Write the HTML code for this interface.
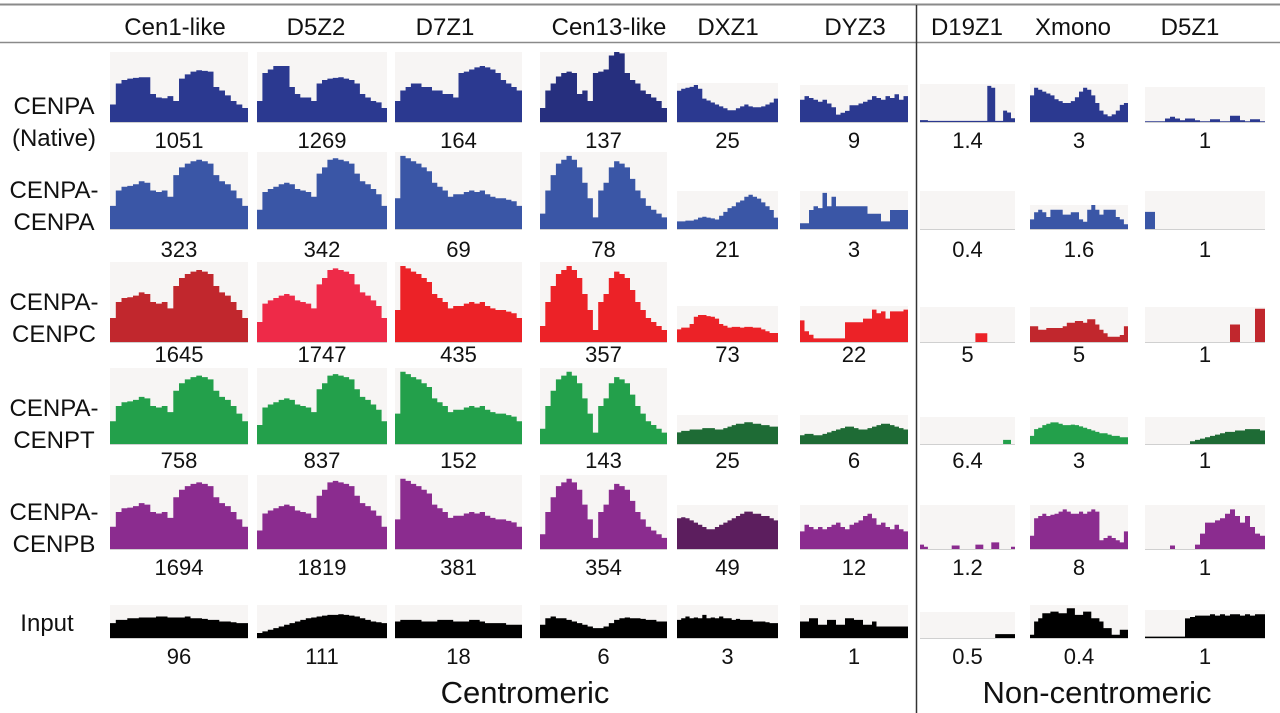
<!DOCTYPE html>
<html><head><meta charset="utf-8"><style>
html,body{margin:0;padding:0;background:#fff;}
svg{display:block;font-family:"Liberation Sans",Arial,sans-serif;}
</style></head><body>
<svg id="fig" width="1280" height="713" viewBox="0 0 1280 713">
<line x1="0" y1="4.5" x2="1280" y2="4.5" stroke="#8a8a8a" stroke-width="2"/>
<line x1="0" y1="42.5" x2="1280" y2="42.5" stroke="#8a8a8a" stroke-width="1.5"/>
<line x1="916.5" y1="5" x2="916.5" y2="713" stroke="#333" stroke-width="1.5"/>
<g id="cells"></g>
<g font-size="24" fill="#111" text-anchor="middle">
<text x="175" y="35">Cen1-like</text>
<text x="316" y="35">D5Z2</text>
<text x="445" y="35">D7Z1</text>
<text x="609" y="35">Cen13-like</text>
<text x="728" y="35">DXZ1</text>
<text x="855" y="35">DYZ3</text>
<text x="967" y="35">D19Z1</text>
<text x="1073" y="35">Xmono</text>
<text x="1190" y="35">D5Z1</text>
</g>
<g font-size="24" fill="#111" text-anchor="middle">
<text x="54" y="114">CENPA</text>
<text x="54" y="146">(Native)</text>
<text x="54" y="198">CENPA-</text>
<text x="54" y="230">CENPA</text>
<text x="54" y="310">CENPA-</text>
<text x="54" y="342">CENPC</text>
<text x="54" y="416">CENPA-</text>
<text x="54" y="448">CENPT</text>
<text x="54" y="520">CENPA-</text>
<text x="54" y="552">CENPB</text>
<text x="47" y="631">Input</text>
</g>
<text x="525" y="703" font-size="31" text-anchor="middle" fill="#111">Centromeric</text>
<text x="1097" y="703" font-size="31" text-anchor="middle" fill="#111">Non-centromeric</text>
</svg>
<script>
// ---- data ----
const columns = ["Cen1-like","D5Z2","D7Z1","Cen13-like","DXZ1","DYZ3","D19Z1","Xmono","D5Z1"];
const rows = ["CENPA-native","CENPA-CENPA","CENPA-CENPC","CENPA-CENPT","CENPA-CENPB","Input"];
const labelsR1 = ["1051","1269","164","137","25","9","1.4","3","1"];
const labelsR2 = ["323","342","69","78","21","3","0.4","1.6","1"];
const labelsR3 = ["1645","1747","435","357","73","22","5","5","1"];
const labelsR4 = ["758","837","152","143","25","6","6.4","3","1"];
const labelsR5 = ["1694","1819","381","354","49","12","1.2","8","1"];
const labelsR6 = ["96","111","18","6","3","1","0.5","0.4","1"];

const c1r1 = [0.25,0.55,0.6,0.62,0.63,0.64,0.64,0.4,0.35,0.34,0.37,0.3,0.62,0.68,0.72,0.74,0.73,0.72,0.5,0.45,0.38,0.3,0.25,0.2];
const c1rx = [0.3,0.5,0.55,0.56,0.58,0.62,0.6,0.5,0.48,0.5,0.42,0.7,0.8,0.85,0.88,0.9,0.88,0.85,0.7,0.62,0.58,0.5,0.4,0.3];
const c2r1 = [0.3,0.7,0.75,0.8,0.8,0.8,0.5,0.4,0.35,0.35,0.3,0.55,0.6,0.62,0.63,0.64,0.62,0.6,0.55,0.4,0.35,0.3,0.28,0.2];
const c2rx = [0.25,0.48,0.52,0.55,0.58,0.6,0.58,0.52,0.5,0.48,0.42,0.72,0.8,0.9,0.92,0.9,0.88,0.85,0.72,0.62,0.58,0.52,0.45,0.3];
const c3r1 = [0.3,0.45,0.5,0.55,0.55,0.5,0.5,0.45,0.45,0.4,0.4,0.35,0.7,0.72,0.75,0.78,0.8,0.78,0.75,0.7,0.6,0.55,0.5,0.45];
const c3rx = [0.4,0.95,0.92,0.88,0.85,0.8,0.75,0.6,0.55,0.5,0.42,0.45,0.45,0.48,0.5,0.48,0.5,0.45,0.42,0.4,0.4,0.38,0.36,0.3];
const c4r1 = [0.2,0.45,0.55,0.65,0.7,0.72,0.7,0.4,0.45,0.3,0.7,0.72,0.75,0.95,1,0.98,0.7,0.6,0.55,0.45,0.4,0.35,0.3,0.2];
const c4rx = [0.2,0.5,0.7,0.85,0.9,0.95,0.9,0.8,0.6,0.4,0.15,0.5,0.6,0.8,0.88,0.85,0.8,0.65,0.5,0.4,0.3,0.25,0.2,0.15];
const dxz1r1 = [0.8,0.85,0.88,0.9,0.95,0.85,0.6,0.55,0.5,0.45,0.4,0.35,0.3,0.3,0.35,0.4,0.45,0.4,0.38,0.38,0.4,0.45,0.5,0.6];
const dyz3r1 = [0.6,0.7,0.65,0.6,0.55,0.6,0.5,0.4,0.2,0.25,0.3,0.45,0.45,0.5,0.55,0.6,0.7,0.65,0.6,0.7,0.65,0.75,0.6,0.7];
const d19r1 = [0.05,0.05,0.03,0.03,0.03,0.03,0.03,0.03,0.03,0.03,0.03,0.03,0.03,0.03,0.03,0.03,0.03,0.95,0.9,0.03,0.03,0.3,0.25,0.1];
const xmr1 = [0.7,0.9,0.85,0.8,0.75,0.7,0.6,0.55,0.5,0.5,0.55,0.65,0.8,0.9,0.85,0.7,0.5,0.3,0.2,0.15,0.2,0.3,0.45,0.5];
const d5z1r1 = [0.02,0.02,0.02,0.02,0.1,0.15,0.1,0.05,0.1,0.1,0.05,0.02,0.02,0.08,0.08,0.02,0.02,0.18,0.18,0.05,0.02,0.08,0.08,0.02];
const dxz1r2 = [0.2,0.2,0.22,0.22,0.25,0.3,0.32,0.3,0.28,0.25,0.35,0.45,0.55,0.6,0.7,0.75,0.85,0.9,0.85,0.8,0.7,0.6,0.5,0.3];
const dyz3r2 = [0.15,0.15,0.5,0.6,0.55,0.95,0.6,0.85,0.6,0.6,0.6,0.6,0.6,0.6,0.6,0.4,0.4,0.4,0.2,0.2,0.5,0.5,0.5,0.5];
const d19r2 = [0,0,0,0,0,0,0,0,0,0,0,0,0,0,0,0,0,0,0,0,0,0,0,0];
const xmr2 = [0.4,0.7,0.8,0.7,0.5,0.8,0.8,0.8,0.6,0.6,0.7,0.7,0.4,0.3,0.8,1,0.8,0.6,0.8,0.8,0.8,0.5,0.4,0.2];
const d5z1r2 = [0.45,0.45,0,0,0,0,0,0,0,0,0,0,0,0,0,0,0,0,0,0,0,0,0,0];
const dxz1r3 = [0.35,0.4,0.4,0.5,0.7,0.75,0.75,0.72,0.7,0.65,0.5,0.45,0.4,0.42,0.42,0.4,0.42,0.42,0.4,0.4,0.35,0.3,0.25,0.25];
const dyz3r3 = [0.6,0.3,0.2,0.1,0.1,0.1,0.1,0.1,0.1,0.1,0.55,0.55,0.55,0.55,0.65,0.65,0.9,0.8,0.85,0.65,0.85,0.85,0.85,0.9];
const d19r3 = [0,0,0,0,0,0,0,0,0,0,0,0,0,0,0.25,0.25,0.25,0,0,0,0,0,0,0];
const xmr3 = [0.45,0.45,0.35,0.35,0.4,0.4,0.4,0.4,0.45,0.55,0.55,0.6,0.6,0.55,0.65,0.65,0.5,0.35,0.25,0.15,0.15,0.15,0.2,0.45];
const d5z1r3 = [0,0,0,0,0,0,0,0,0,0,0,0,0,0,0,0,0,0.5,0.5,0,0,0,0.95,0.95];
const dxz1r4 = [0.4,0.45,0.45,0.5,0.5,0.5,0.55,0.55,0.55,0.5,0.5,0.55,0.6,0.65,0.7,0.7,0.75,0.75,0.7,0.7,0.65,0.65,0.6,0.6];
const dyz3r4 = [0.3,0.35,0.35,0.3,0.3,0.35,0.4,0.45,0.5,0.55,0.6,0.6,0.55,0.5,0.5,0.55,0.6,0.65,0.7,0.7,0.65,0.6,0.55,0.5];
const d19r4 = [0,0,0,0,0,0,0,0,0,0,0,0,0,0,0,0,0,0,0,0,0,0.15,0.15,0];
const xmr4 = [0.3,0.55,0.6,0.7,0.75,0.8,0.8,0.75,0.7,0.7,0.72,0.7,0.65,0.6,0.55,0.5,0.45,0.4,0.4,0.35,0.3,0.3,0.25,0.25];
const d5z1r4 = [0,0,0,0,0,0,0,0,0,0.1,0.15,0.2,0.25,0.3,0.35,0.4,0.45,0.45,0.5,0.5,0.55,0.55,0.55,0.5];
const dxz1r5 = [0.7,0.72,0.7,0.65,0.6,0.55,0.5,0.45,0.45,0.5,0.55,0.6,0.65,0.7,0.75,0.8,0.85,0.85,0.8,0.8,0.75,0.75,0.7,0.65];
const dyz3r5 = [0.4,0.55,0.5,0.45,0.5,0.45,0.5,0.55,0.6,0.5,0.45,0.55,0.6,0.65,0.75,0.8,0.7,0.55,0.6,0.5,0.45,0.55,0.45,0.4];
const d19r5 = [0.1,0.05,0,0,0,0,0,0,0.08,0.08,0,0,0,0,0.1,0.1,0,0,0.15,0.15,0,0,0,0.05];
const xmr5 = [0.3,0.7,0.75,0.8,0.75,0.78,0.8,0.85,0.9,0.85,0.8,0.8,0.85,0.8,0.85,0.9,0.85,0.2,0.25,0.3,0.25,0.2,0.15,0.4];
const d5z1r5 = [0,0,0,0,0,0.08,0,0,0,0,0.1,0.35,0.6,0.6,0.65,0.7,0.8,0.9,0.75,0.6,0.75,0.5,0.35,0.3];
const inC1 = [0.45,0.55,0.55,0.6,0.6,0.62,0.62,0.62,0.65,0.65,0.62,0.62,0.62,0.65,0.6,0.6,0.58,0.55,0.55,0.5,0.5,0.48,0.45,0.45];
const inC2 = [0.15,0.2,0.25,0.3,0.35,0.4,0.45,0.5,0.55,0.6,0.62,0.65,0.68,0.7,0.7,0.72,0.7,0.68,0.65,0.6,0.55,0.5,0.48,0.45];
const inC3 = [0.5,0.55,0.55,0.55,0.55,0.5,0.5,0.5,0.55,0.55,0.55,0.5,0.5,0.5,0.55,0.55,0.5,0.45,0.45,0.45,0.45,0.4,0.4,0.4];
const inC4 = [0.4,0.6,0.65,0.6,0.6,0.55,0.5,0.45,0.4,0.35,0.3,0.3,0.35,0.45,0.55,0.6,0.62,0.6,0.6,0.58,0.55,0.55,0.5,0.5];
const inC5 = [0.55,0.6,0.65,0.6,0.62,0.6,0.7,0.6,0.62,0.6,0.65,0.6,0.6,0.55,0.58,0.55,0.55,0.55,0.5,0.5,0.5,0.48,0.45,0.45];
const inC6 = [0.5,0.5,0.6,0.6,0.4,0.4,0.55,0.55,0.4,0.4,0.6,0.6,0.55,0.55,0.4,0.4,0.5,0.35,0.35,0.35,0.35,0.35,0.35,0.35];
const inC7 = [0,0,0,0,0,0,0,0,0,0,0,0,0,0,0,0,0,0,0,0.15,0.15,0.15,0.15,0.15];
const inC8 = [0.1,0.5,0.6,0.75,0.75,0.8,0.8,0.75,0.75,0.9,0.9,0.7,0.7,0.8,0.8,0.6,0.6,0.5,0.3,0.3,0.1,0.1,0.25,0.25];
const inC9 = [0.05,0.05,0.05,0.05,0.05,0.05,0.05,0.05,0.7,0.75,0.8,0.8,0.8,0.85,0.8,0.85,0.8,0.85,0.85,0.8,0.85,0.8,0.85,0.85];

const seriesR1 = [c1r1,c2r1,c3r1,c4r1,dxz1r1,dyz3r1,d19r1,xmr1,d5z1r1];
const seriesR2 = [c1rx,c2rx,c3rx,c4rx,dxz1r2,dyz3r2,d19r2,xmr2,d5z1r2];
const seriesR3 = [c1rx,c2rx,c3rx,c4rx,dxz1r3,dyz3r3,d19r3,xmr3,d5z1r3];
const seriesR4 = [c1rx,c2rx,c3rx,c4rx,dxz1r4,dyz3r4,d19r4,xmr4,d5z1r4];
const seriesR5 = [c1rx,c2rx,c3rx,c4rx,dxz1r5,dyz3r5,d19r5,xmr5,d5z1r5];
const seriesR6 = [inC1,inC2,inC3,inC4,inC5,inC6,inC7,inC8,inC9];

// ---- layout (not data) ----
const colX0 = [110,257,395,540,677,800,920,1030,1145];
const colX1 = [248,387,522,667,778,908,1015,1128,1265];
const rowBase = [122,229,342,444,549,638];
const rowTopMain = [52,152,262,368,475,605];
const rowTopSide = [[83,85,84,84,87],[191,191,191,205,191],[306,306,307,307,307],[415,415,417,417,417],[505,505,505,505,505],[605,605,612,605,610]];
const rowLabelY = [148,257,362,468,575,664];
const colorsRow = [
 ["#2b3990","#2b3990","#2b3990","#262f7e","#2b3990","#2b3990","#2b3990","#2b3990","#2b3990"],
 ["#3a56a6","#3a56a6","#3a56a6","#3a56a6","#3a56a6","#3a56a6","#3a56a6","#3a56a6","#3a56a6"],
 ["#c1272d","#ee2a48","#ec2227","#ec2227","#ec2227","#ec2227","#ec2227","#c1272d","#c1272d"],
 ["#23a04b","#23a04b","#23a04b","#23a04b","#1e6b35","#1e6b35","#23a04b","#23a04b","#1e6b35"],
 ["#8b2c8f","#8b2c8f","#8b2c8f","#8b2c8f","#5c1e5e","#8b2c8f","#8b2c8f","#8b2c8f","#8b2c8f"],
 ["#000","#000","#000","#000","#000","#000","#000","#000","#000"]];
const allSeries = [seriesR1,seriesR2,seriesR3,seriesR4,seriesR5,seriesR6];
const allLabels = [labelsR1,labelsR2,labelsR3,labelsR4,labelsR5,labelsR6];

const NS = "http://www.w3.org/2000/svg";
const g = document.getElementById("cells");
function yScale(v, top, base){ return base - v*(base-top); }
for (let r=0;r<6;r++){
  for (let c=0;c<9;c++){
    const x0=colX0[c], x1=colX1[c], base=rowBase[r];
    const top = c<4 ? rowTopMain[r] : rowTopSide[r][c-4];
    const bg=document.createElementNS(NS,"rect");
    bg.setAttribute("x",x0); bg.setAttribute("y",top);
    bg.setAttribute("width",x1-x0); bg.setAttribute("height",base-top);
    bg.setAttribute("fill","#f7f5f4");
    
    
    g.appendChild(bg);
    const vals = allSeries[r][c];
    const n = vals.length, w=(x1-x0)/n;
    let d = "M"+x0+","+base;
    for (let i=0;i<n;i++){
      const y=yScale(vals[i],top,base).toFixed(1);
      d += " L"+(x0+i*w).toFixed(1)+","+y+" L"+(x0+(i+1)*w).toFixed(1)+","+y;
    }
    d += " L"+x1+","+base+" Z";
    const p=document.createElementNS(NS,"path");
    p.setAttribute("d",d); p.setAttribute("fill",colorsRow[r][c]);
    
    
    g.appendChild(p);
    const bl=document.createElementNS(NS,"line");
    bl.setAttribute("x1",x0); bl.setAttribute("x2",x1);
    bl.setAttribute("y1",base+0.5); bl.setAttribute("y2",base+0.5);
    bl.setAttribute("stroke","#d0d0d0"); bl.setAttribute("stroke-width","1");
    
    
    g.appendChild(bl);
    const t=document.createElementNS(NS,"text");
    t.setAttribute("x",(x0+x1)/2); t.setAttribute("y",rowLabelY[r]);
    t.setAttribute("text-anchor","middle"); t.setAttribute("font-size","22"); t.setAttribute("fill","#111");
    t.textContent = allLabels[r][c];
    
    
    g.appendChild(t);
  }
}
</script>
</body></html>
